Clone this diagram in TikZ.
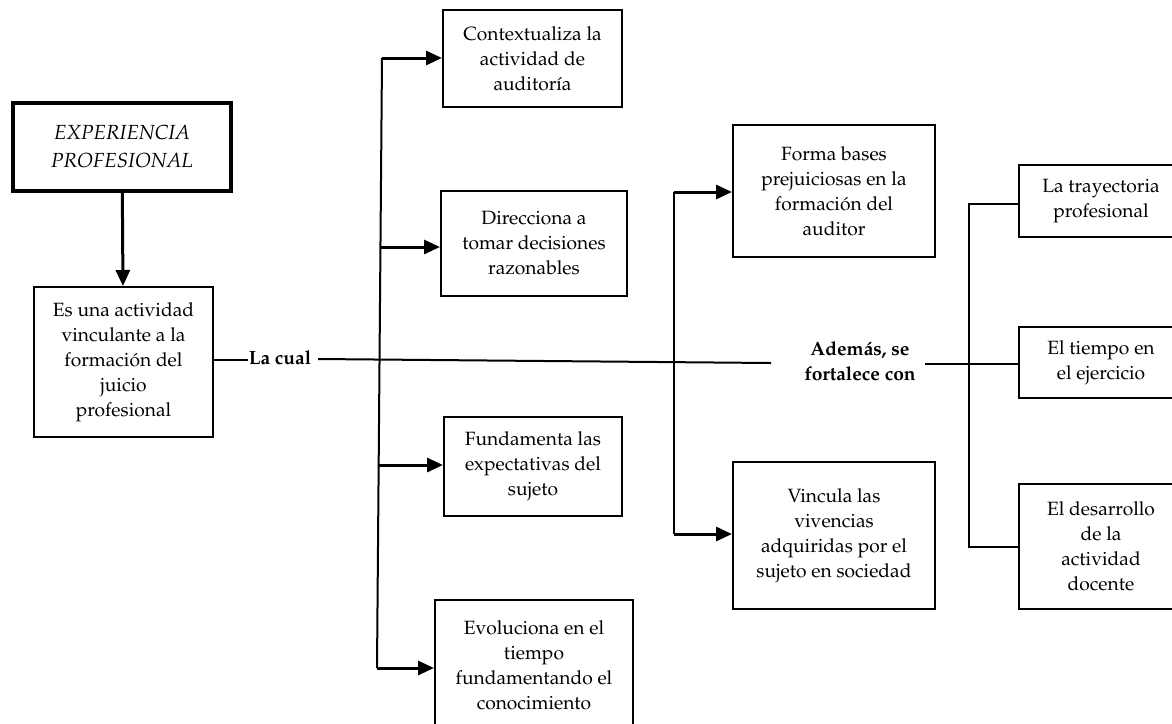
\documentclass[tikz,border=0pt]{standalone}
\usepackage[T1]{fontenc}
\usepackage{mathpazo}
\usetikzlibrary{arrows.meta}

\begin{document}
\begin{tikzpicture}[x=0.5pt,y=-0.5pt,
  txt/.style={font=\fontsize{9.6}{12.5}\selectfont, align=center},
  box/.style={txt, draw, line width=1pt, inner sep=0pt},
  sz/.style 2 args={minimum width=#1*0.5pt, minimum height=#2*0.5pt},
  lbl/.style={txt, font=\fontsize{9.6}{12.5}\selectfont\bfseries, inner sep=0pt},
  link/.style={line width=1pt},
  tip/.style={-{Triangle[length=8pt,width=7pt]}},
  arr/.style={line width=1.5pt, tip}]

\useasboundingbox (0,0) rectangle (1172,723);
\clip (0,0) rectangle (1172,723);

% left column
\node[box, sz={218}{88}, line width=1.7pt, font=\fontsize{10.2}{14}\selectfont\itshape] (exp) at (122,147)
  {EXPERIENCIA\\PROFESIONAL};
\node[box, sz={179}{150}] (esuna) at (123.5,362)
  {Es una actividad\\vinculante a la\\formaci\'on del\\juicio\\profesional};

% first branch column
\node[box, sz={179}{97}] (ctx) at (532.5,58.5)
  {Contextualiza la\\actividad de\\auditor\'{\i}a};
\node[box, sz={186}{105}] (dir) at (534,243.5)
  {Direcciona a\\tomar decisiones\\razonables};
\node[box, sz={178}{99}] (fun) at (533,466.5)
  {Fundamenta las\\expectativas del\\sujeto};
\node[box, sz={198}{130}] (evo) at (534,665)
  {Evoluciona en el\\tiempo\\fundamentando el\\conocimiento};

% second branch column
\node[box, sz={202}{132}] (forma) at (834,191)
  {Forma bases\\prejuiciosas en la\\formaci\'on del\\auditor};
\node[box, sz={202}{147}] (vinc) at (834,535.5)
  {Vincula las\\vivencias\\adquiridas por el\\sujeto en sociedad};

% right column
\node[box, sz={164}{72}] (tray) at (1101,201)
  {La trayectoria\\profesional};
\node[box, sz={164}{71}] (tiempo) at (1101,362.5)
  {El tiempo en\\el ejercicio};
\node[box, sz={164}{125}] (desa) at (1101,546.5)
  {El desarrollo\\de la\\actividad\\docente};

% connector labels
\node[lbl] (lacual) at (280,358) {La cual};
\node[lbl] (ademas) at (860,361) {Adem\'as, se\\fortalece con};

% trunks and junctions
\coordinate (t1) at (382,58);
\coordinate (t2) at (380.4,247);
\coordinate (t3) at (378.7,465);
\coordinate (t4) at (377,668);
\coordinate (m1) at (674,192);
\coordinate (m2) at (674,534);
\coordinate (r1) at (969,204);
\coordinate (r3) at (969,547);
\coordinate (aL) at (771,363);
\coordinate (aR) at (925,364);
\coordinate (lcR) at (318,359);

% main flow
\draw[line width=1.5pt, tip] (exp) -- (esuna);
\draw[link] (esuna.east |- 0,360) -- (lacual.west |- 0,360);
\draw[link] (lcR) -- (aL);
\draw[link] (aR) -- (aR -| tiempo.west);

% first trunk
\draw[link] (t1) -- (t4);
\draw[arr] (t1) -- (t1 -| ctx.west);
\draw[arr] (t2) -- (t2 -| dir.west);
\draw[arr] (t3) -- (t3 -| fun.west);
\draw[arr] (t4) -- (t4 -| evo.west);

% second trunk
\draw[link] (m1) -- (m2);
\draw[arr] (m1) -- (m1 -| forma.west);
\draw[arr] (m2) -- (m2 -| vinc.west);

% third trunk
\draw[link] (r1 -| tray.west) -- (r1) -- (r3) -- (r3 -| desa.west);
\end{tikzpicture}
\end{document}
